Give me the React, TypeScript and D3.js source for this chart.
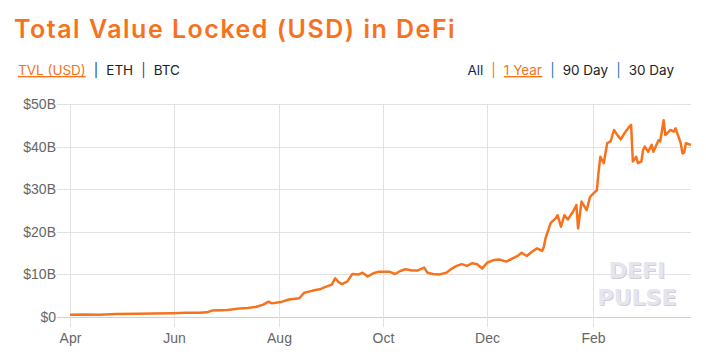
import * as d3 from "d3";

// ── Data (TVL in billions USD) ──────────────────────────────────────────────

const dates: string[] = [
  "2020-04-01", "2020-04-10", "2020-04-18", "2020-04-28", "2020-05-11", "2020-05-20",
  "2020-05-31", "2020-06-08", "2020-06-16", "2020-06-20", "2020-06-23",
  "2020-07-02", "2020-07-09", "2020-07-14", "2020-07-19", "2020-07-23", "2020-07-26", "2020-07-28", "2020-08-03", "2020-08-07",
  "2020-08-13", "2020-08-16", "2020-08-21", "2020-08-25", "2020-08-28", "2020-09-01", "2020-09-03", "2020-09-05", "2020-09-07",
  "2020-09-10", "2020-09-13", "2020-09-17", "2020-09-19", "2020-09-22", "2020-09-25", "2020-09-28",
  "2020-10-05", "2020-10-08", "2020-10-11", "2020-10-14", "2020-10-18", "2020-10-21", "2020-10-25", "2020-10-27",
  "2020-10-30", "2020-11-03", "2020-11-07", "2020-11-10", "2020-11-13", "2020-11-16", "2020-11-19", "2020-11-22",
  "2020-11-25", "2020-11-28", "2020-12-01", "2020-12-05", "2020-12-08", "2020-12-12",
  "2020-12-16", "2020-12-19", "2020-12-21", "2020-12-24", "2020-12-27", "2020-12-30", "2021-01-02",
  "2021-01-03", "2021-01-04", "2021-01-07", "2021-01-10", "2021-01-11", "2021-01-13",
  "2021-01-15", "2021-01-17", "2021-01-20", "2021-01-22", "2021-01-23", "2021-01-25",
  "2021-01-28", "2021-01-30", "2021-02-01", "2021-02-03", "2021-02-04", "2021-02-05",
  "2021-02-07", "2021-02-09", "2021-02-11", "2021-02-13", "2021-02-15", "2021-02-17",
  "2021-02-19", "2021-02-22", "2021-02-23", "2021-02-24", "2021-02-26", "2021-02-27",
  "2021-03-01", "2021-03-02", "2021-03-03", "2021-03-05", "2021-03-07", "2021-03-08",
  "2021-03-11", "2021-03-12", "2021-03-14", "2021-03-15", "2021-03-18", "2021-03-20",
  "2021-03-21", "2021-03-24", "2021-03-25", "2021-03-26", "2021-03-27", "2021-03-30",
];

const tvl: number[] = [
  0.5, 0.6, 0.55, 0.7, 0.75, 0.8,
  0.9, 1.0, 1.0, 1.1, 1.5,
  1.65, 2.0, 2.1, 2.4, 2.9, 3.6, 3.2, 3.6, 4.1,
  4.4, 5.7, 6.2, 6.5, 7.0, 7.6, 9.1, 8.2, 7.7,
  8.3, 10.1, 10.0, 10.4, 9.5, 10.2, 10.6,
  10.6, 10.1, 10.8, 11.2, 10.9, 10.9, 11.6, 10.4,
  10.1, 10.0, 10.4, 11.3, 12.0, 12.4, 12.0, 12.6,
  12.4, 11.4, 12.8, 13.4, 13.5, 13.0,
  13.8, 14.4, 15.1, 14.3, 15.3, 16.1, 15.5,
  16.5, 18.5, 22.1, 23.2, 23.9, 21.2,
  23.9, 22.9, 24.7, 26.3, 20.8, 27.1,
  25.1, 28.2, 29.0, 29.8, 34.1, 37.6,
  36.1, 40.8, 41.2, 43.9, 42.7, 41.7,
  43.1, 44.7, 45.1, 36.5, 37.6, 36.1,
  36.5, 39.2, 40.0, 38.8, 40.4, 38.8,
  41.5, 41.2, 46.2, 42.7, 43.9, 43.5,
  44.3, 40.8, 38.4, 38.6, 40.8, 40.4,
];

const yTicks: number[] = [0, 10, 20, 30, 40, 50];
const xTickDates: string[] = ["2020-04-01", "2020-06-01", "2020-08-01", "2020-10-01", "2020-12-01", "2021-02-01"];
const leftTabs: string[] = ["TVL (USD)", "ETH", "BTC"];
const rightTabs: string[] = ["All", "1 Year", "90 Day", "30 Day"];

// ── Layout ──────────────────────────────────────────────────────────────────

const W = 706;
const H = 352;
const margin = { top: 104, right: 15, bottom: 35, left: 70 };
const ORANGE = "#f7721d";
const GRID = "#e2e2e2";

const parse = d3.timeParse("%Y-%m-%d");
const points = dates.map((d, i) => ({ date: parse(d) as Date, value: tvl[i] }));

export default function App() {
  const x = d3
    .scaleTime()
    .domain([parse("2020-04-01") as Date, parse("2021-03-30") as Date])
    .range([margin.left, W - margin.right]);
  const y = d3.scaleLinear().domain([0, 50]).range([H - margin.bottom, margin.top]);

  const line = d3
    .line<{ date: Date; value: number }>()
    .x((d) => x(d.date))
    .y((d) => y(d.value));

  const fmt = (v: number) => (v === 0 ? "$0" : `$${v}B`);
  const axisFont = "'Liberation Sans', Arial, sans-serif";
  const uiFont = "Inter, 'Noto Sans', sans-serif";
  const GAP = 8;

  return (
    <svg
      width={W}
      height={H}
      style={{ position: "absolute", left: 0, top: 0, background: "#fff" }}
    >
      {/* Title */}
      <text
        x={14}
        y={38}
        fill={ORANGE}
        fontFamily={uiFont}
        fontSize={25}
        fontWeight={600}
        letterSpacing={1.5}
      >
        Total Value Locked (USD) in DeFi
      </text>

      {/* Left tabs */}
      <text x={18} y={75} fontFamily={uiFont} fontSize={13.5} fill="#222">
        <tspan fill={ORANGE} textDecoration="underline">{leftTabs[0]}</tspan>
        <tspan dx={GAP} fill="#1a3e72">|</tspan>
        <tspan dx={GAP}>{leftTabs[1]}</tspan>
        <tspan dx={GAP} fill="#6a2b8f">|</tspan>
        <tspan dx={GAP}>{leftTabs[2]}</tspan>
      </text>

      {/* Right tabs */}
      <text x={674} y={75} textAnchor="end" fontFamily={uiFont} fontSize={13.5} fill="#222">
        <tspan fill="#1d2752">{rightTabs[0]}</tspan>
        <tspan dx={GAP} fill={ORANGE}>|</tspan>
        <tspan dx={GAP} fill={ORANGE} textDecoration="underline">{rightTabs[1]}</tspan>
        <tspan dx={GAP} fill="#1f77b4">|</tspan>
        <tspan dx={GAP}>{rightTabs[2]}</tspan>
        <tspan dx={GAP} fill="#1f77b4">|</tspan>
        <tspan dx={GAP}>{rightTabs[3]}</tspan>
      </text>

      {/* Horizontal grid + y labels */}
      {yTicks.map((t) => (
        <g key={`y${t}`}>
          <line
            x1={margin.left - 13}
            x2={W - margin.right}
            y1={Math.round(y(t)) + 0.5}
            y2={Math.round(y(t)) + 0.5}
            stroke={t === 0 ? "#d0d0d0" : GRID}
          />
          <text
            x={margin.left - 14}
            y={y(t)}
            dy="0.35em"
            textAnchor="end"
            fontFamily={axisFont}
            fontSize={14}
            fill="#666"
          >
            {fmt(t)}
          </text>
        </g>
      ))}

      {/* Vertical grid + x labels */}
      {xTickDates.map((s) => {
        const d = parse(s) as Date;
        const px = Math.round(x(d)) + 0.5;
        return (
          <g key={s}>
            <line x1={px} x2={px} y1={margin.top} y2={H - margin.bottom + 10} stroke={GRID} />
            <text
              x={px}
              y={H - 9}
              textAnchor="middle"
              fontFamily={axisFont}
              fontSize={14}
              fill="#666"
            >
              {d3.timeFormat("%b")(d)}
            </text>
          </g>
        );
      })}

      {/* Watermark */}
      <g fontFamily="'DejaVu Sans', sans-serif" fontWeight={700} fontSize={22} textAnchor="middle">
        <text x={638} y={279} fill="#cfcdd9">DEFI</text>
        <text x={637} y={278} fill="#e6e5ee">DEFI</text>
        <text x={638} y={306} fill="#cfcdd9">PULSE</text>
        <text x={637} y={305} fill="#e6e5ee">PULSE</text>
      </g>

      {/* TVL line */}
      <path
        d={line(points) ?? ""}
        fill="none"
        stroke={ORANGE}
        strokeWidth={2.5}
        strokeLinejoin="round"
      />
    </svg>
  );
}
